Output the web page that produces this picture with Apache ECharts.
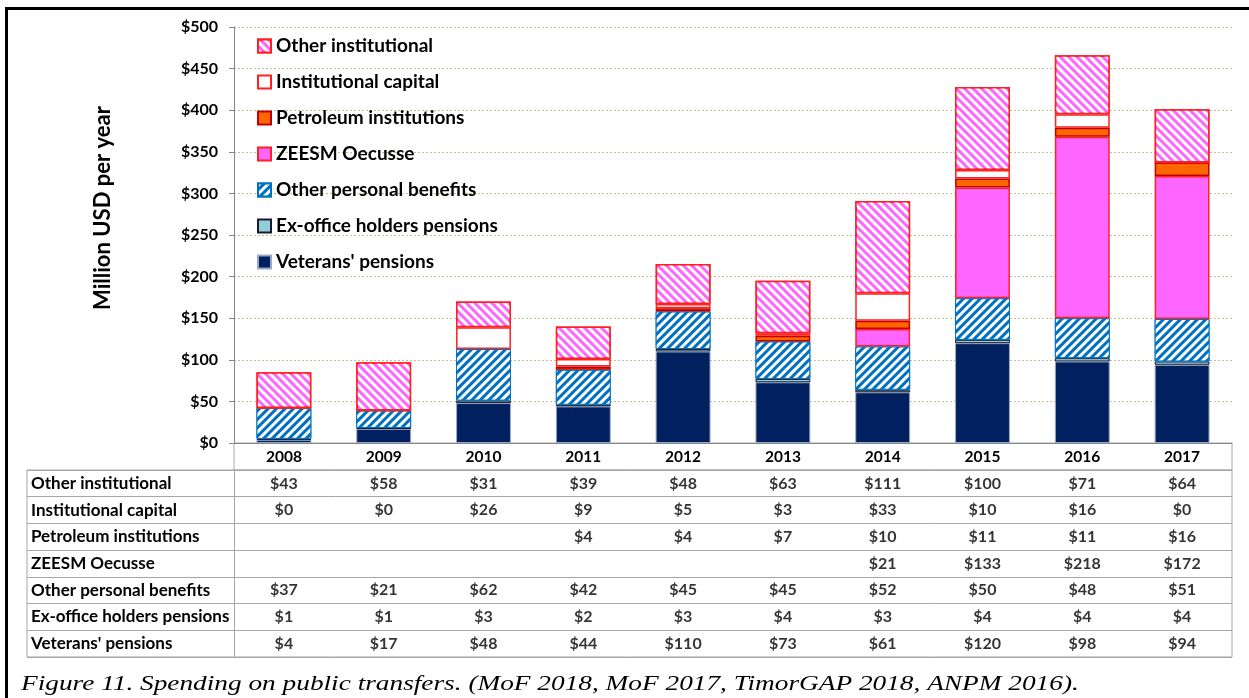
<!DOCTYPE html>
<html>
<head>
<meta charset="utf-8">
<script src="https://cdn.jsdelivr.net/npm/echarts@6/dist/echarts.min.js"></script>
<style>
  html, body { margin: 0; padding: 0; background: #fff; }
  #chart { width: 1249px; height: 698px; }
</style>
</head>
<body>
<div id="chart"></div>
<script>
  // years on the x axis
  const years = ['2008', '2009', '2010', '2011', '2012', '2013', '2014', '2015', '2016', '2017']

  // million USD per year
  const veterans = [4, 17, 48, 44, 110, 73, 61, 120, 98, 94]
  const exOffice = [1, 1, 3, 2, 3, 4, 3, 4, 4, 4]
  const otherPersonal = [37, 21, 62, 42, 45, 45, 52, 50, 48, 51]
  const zeesm = [null, null, null, null, null, null, 21, 133, 218, 172]
  const petroleum = [null, null, null, 4, 4, 7, 10, 11, 11, 16]
  const instCapital = [0, 0, 26, 9, 5, 3, 33, 10, 16, 0]
  const otherInst = [43, 58, 31, 39, 48, 63, 111, 100, 71, 64]

  const yTicks = [0, 50, 100, 150, 200, 250, 300, 350, 400, 450, 500]

  const names = {
    veterans: "Veterans' pensions",
    exOffice: 'Ex-office holders pensions',
    otherPersonal: 'Other personal benefits',
    zeesm: 'ZEESM Oecusse',
    petroleum: 'Petroleum institutions',
    instCapital: 'Institutional capital',
    otherInst: 'Other institutional',
  }

  // table rows, top to bottom
  const tableRows = [
    [names.otherInst, otherInst],
    [names.instCapital, instCapital],
    [names.petroleum, petroleum],
    [names.zeesm, zeesm],
    [names.otherPersonal, otherPersonal],
    [names.exOffice, exOffice],
    [names.veterans, veterans],
  ]

  const font = 'Lato'
  const gridLine = '#a6a6a6'

  const plotLeft = 234
  const plotRight = 17
  const colWidth = (1249 - plotLeft - plotRight) / years.length
  const tableLeft = 27

  const tableData = []
  tableRows.forEach(([name, vals]) => {
    vals.forEach((v, i) => {
      if (v !== null) tableData.push([i + 0.5, name, '$' + v])
    })
  })

  function stripes(rot) {
    return {
      symbol: 'rect',
      symbolSize: 1,
      dashArrayX: [1, 0],
      dashArrayY: [3, 3],
      rotation: rot,
      color: '#ffffff',
    }
  }

  function bar(name, data, itemStyle) {
    return {
      name,
      type: 'bar',
      stack: 'total',
      barWidth: '55%',
      data,
      itemStyle,
      xAxisIndex: 0,
      yAxisIndex: 0,
    }
  }

  const chart = echarts.init(document.getElementById('chart'))

  chart.setOption({
    animation: false,
    graphic: [
      {
        type: 'rect',
        shape: { x: 6.5, y: 8.5, width: 1270, height: 720 },
        style: { fill: 'none', stroke: '#000', lineWidth: 3 },
        silent: true,
      },
      {
        type: 'text',
        x: 103,
        y: 208,
        rotation: Math.PI / 2,
        style: {
          text: 'Million USD per year',
          fontFamily: font,
          fontWeight: 'bold',
          fontSize: 22,
          fill: '#000',
          align: 'center',
          verticalAlign: 'middle',
        },
      },
      {
        type: 'text',
        x: 21,
        y: 684,
        scaleX: 1.3,
        style: {
          text: 'Figure 11. Spending on public transfers. (MoF 2018, MoF 2017, TimorGAP 2018, ANPM 2016).',
          fontFamily: 'Liberation Serif',
          fontStyle: 'italic',
          fontSize: 21,
          fill: '#000',
          align: 'left',
          verticalAlign: 'middle',
        },
      },
    ],
    legend: {
      orient: 'vertical',
      left: 257,
      top: 36,
      padding: 0,
      itemWidth: 13,
      itemHeight: 13,
      itemGap: 16,
      icon: 'rect',
      data: [names.otherInst, names.instCapital, names.petroleum, names.zeesm,
        names.otherPersonal, names.exOffice, names.veterans],
      textStyle: {
        fontFamily: font,
        fontWeight: 'bold',
        fontSize: 19,
        lineHeight: 20,
        color: '#000',
      },
    },
    grid: [
      { left: plotLeft, right: plotRight, top: 27, bottom: 698 - 443, outerBoundsMode: 'none' },
      { left: tableLeft, right: plotRight, top: 470, bottom: 698 - 657, show: true, borderColor: gridLine, borderWidth: 1, outerBoundsMode: 'none' },
      { left: plotLeft, right: plotRight, top: 443, height: 27, show: true, borderColor: gridLine, borderWidth: 1, outerBoundsMode: 'none' },
    ],
    xAxis: [
      {
        type: 'category',
        gridIndex: 0,
        data: years,
        axisLine: { lineStyle: { color: '#868686' } },
        axisTick: { show: false },
        axisLabel: { margin: 6, fontFamily: font, fontWeight: 'bold', fontSize: 15.5, color: '#000' },
      },
      {
        type: 'value',
        gridIndex: 1,
        min: -(plotLeft - tableLeft) / colWidth,
        max: years.length,
        show: false,
      },
      { type: 'category', gridIndex: 2, data: years, show: false },
    ],
    yAxis: [
      {
        type: 'value',
        gridIndex: 0,
        min: 0,
        max: 500,
        interval: 50,
        axisLine: { show: true, lineStyle: { color: '#868686' } },
        axisTick: { show: true, length: 5, lineStyle: { color: '#868686' } },
        axisLabel: {
          margin: 16,
          fontFamily: font,
          fontWeight: 'bold',
          fontSize: 16,
          color: '#000',
          formatter: (v) => (yTicks.includes(v) ? '$' + v : ''),
        },
        splitLine: { lineStyle: { color: '#c4bd97', type: [2, 2], width: 1 } },
      },
      {
        type: 'category',
        gridIndex: 1,
        inverse: true,
        data: tableRows.map((r) => r[0]),
        axisLine: { show: true, onZero: true, lineStyle: { color: gridLine } },
        axisTick: { show: false },
        axisLabel: {
          align: 'left',
          margin: -4,
          fontFamily: font,
          fontWeight: 'bold',
          fontSize: 17,
          color: '#000',
        },
        splitLine: { show: true, lineStyle: { color: gridLine } },
      },
      { type: 'value', gridIndex: 2, show: false },
    ],
    series: [
      bar(names.veterans, veterans, { color: '#002060', borderColor: '#9aaac6', borderWidth: 1 }),
      bar(names.exOffice, exOffice, { color: '#92cddc', borderColor: '#1a1a2e', borderWidth: 1 }),
      bar(names.otherPersonal, otherPersonal, { color: '#0070c0', borderColor: '#0070c0', borderWidth: 1, decal: stripes(-Math.PI / 4) }),
      bar(names.zeesm, zeesm, { color: '#ff66ff', borderColor: '#ff2020', borderWidth: 1.5 }),
      bar(names.petroleum, petroleum, { color: '#ff6600', borderColor: '#c00000', borderWidth: 1.5 }),
      bar(names.instCapital, instCapital, { color: '#ffffff', borderColor: '#ff2020', borderWidth: 1.5 }),
      bar(names.otherInst, otherInst, { color: '#ff66ff', borderColor: '#ff2020', borderWidth: 1.5, decal: stripes(Math.PI / 4) }),
      {
        type: 'scatter',
        xAxisIndex: 1,
        yAxisIndex: 1,
        symbolSize: 1,
        itemStyle: { color: 'rgba(0,0,0,0)' },
        data: tableData,
        label: {
          show: true,
          position: 'inside',
          formatter: (p) => p.value[2],
          fontFamily: font,
          fontWeight: 'bold',
          fontSize: 16,
          color: '#000',
        },
      },
    ],
  })
</script>
</body>
</html>
